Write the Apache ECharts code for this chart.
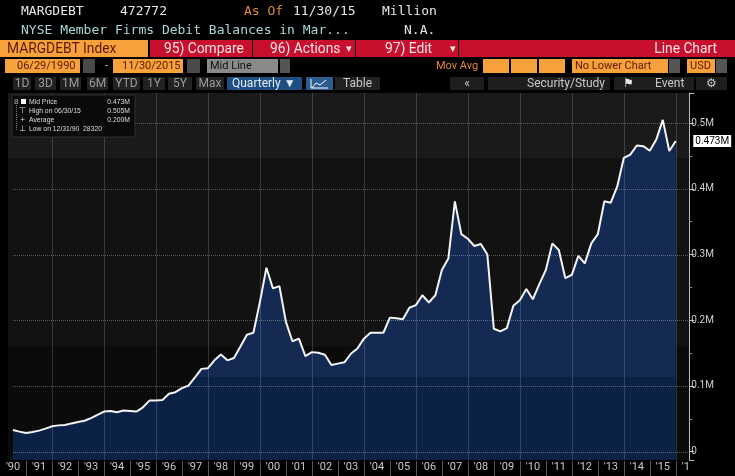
<!DOCTYPE html>
<html><head><meta charset="utf-8">
<script src="https://cdn.jsdelivr.net/npm/echarts@6/dist/echarts.min.js"></script>
<style>html,body{margin:0;padding:0;background:#000;}#c{width:735px;height:476px;}</style>
</head><body><div id="c"></div>
<script>
// ---- data (quarterly, NYSE margin debt, millions) ----
const firstQuarter = 1990.5;      // 06/29/1990, then every quarter
const quarterStep = 0.25;
const margdebt = [
  33000, 30500, 28320, 30000, 32000, 35000, 38500, 40000, 40500, 43000,
  45000, 47000, 51000, 56000, 61000, 62000, 60000, 62500, 62000, 61000,
  67500, 77700, 78000, 78700, 88000, 90500, 96600, 100600, 113000, 126000,
  127000, 139000, 148000, 139000, 142500, 160000, 178000, 181000, 228000, 280000,
  248500, 252000, 197500, 168000, 172000, 145500, 151500, 150500, 147600, 132000,
  134000, 136000, 149000, 157000, 172000, 181000, 181000, 181000, 204000, 203000,
  201500, 219000, 223000, 238000, 227000, 238000, 276500, 294000, 381000, 331000,
  324000, 313000, 316000, 300000, 187000, 183000, 188000, 222000, 230500, 247500,
  232000, 255000, 276500, 317000, 307000, 264000, 269000, 298000, 286500, 317000,
  331000, 381000, 379000, 404000, 447000, 452000, 466000, 465000, 458000, 475000,
  505000, 457500, 472772
];
const yearLabels = ["'90","'91","'92","'93","'94","'95","'96","'97","'98","'99","'00","'01","'02","'03","'04","'05","'06","'07","'08","'09","'10","'11","'12","'13","'14","'15","'16"];
const firstYear = 1990;
const yTickLabels = ['0','0.1M','0.2M','0.3M','0.4M','0.5M'];
const yTickStep = 100000;
const lastLabel = '0.473M';
const legendRows = [
  ['', 'Mid Price', '0.473M'],
  ['⊤', 'High on 06/30/15', '0.505M'],
  ['+', 'Average', '0.200M'],
  ['⊥', 'Low on 12/31/90  28320', '']
];
const X_MIN = 1990, X_MAX = 2016.52, Y_MIN = -12700, Y_MAX = 545900;

const seriesData = margdebt.map((v, i) => [firstQuarter + i * quarterStep, v]);

// ---- helpers for the terminal header (zlevel 0 under the plot, 4 over it) ----
const G = [];
function txt(x, y, s, fill, font, align, zl, sx) {
  G.push({type:'text', x:x, y:y, z:20, zlevel:zl||0, silent:true, scaleX: sx||1,
    style:{text:s, fill:fill, font:font, textAlign:align||'left', textVerticalAlign:'middle'}});
}
function box(x, y, w, h, fill, stroke, zl, z) {
  G.push({type:'rect', z:z||15, zlevel:zl||0, silent:true, shape:{x:x,y:y,width:w,height:h},
    style:{fill:fill, stroke:stroke||null, lineWidth:1}});
}
const MONO = "13px 'DejaVu Sans Mono', 'Liberation Mono', monospace";
const BAR = "15px Roboto, sans-serif";
const SMALL = "11px Roboto, sans-serif";
const BTN = "12px Roboto, sans-serif";
const DARK = '#5c1800';

// row 1
txt(21, 12, 'MARGDEBT', '#e6e6e6', MONO);
txt(120, 12, '472772', '#e6e6e6', MONO);
txt(244, 12, 'As Of', '#e0893a', MONO);
txt(293, 12, '11/30/15', '#e6e6e6', MONO);
txt(382, 12, 'Million', '#e6e6e6', MONO);
// row 2
txt(21, 31, 'NYSE Member Firms Debit Balances in Mar...', '#a9d6d6', MONO);
txt(404, 31, 'N.A.', '#e6e6e6', MONO);
// row 3 (red bar)
box(0, 40, 148, 17, '#f6a13c');
box(150, 40, 102, 17, '#c8102e');
box(253, 40, 102, 17, '#c8102e');
box(356, 40, 102, 17, '#c8102e');
box(459, 40, 276, 17, '#c8102e');
txt(7, 49, 'MARGDEBT Index', DARK, BAR, 'left', 0, 0.92);
txt(164, 49, '95) Compare', '#fbe4e4', BAR, 'left', 0, 0.92);
txt(270, 49, '96) Actions', '#fbe4e4', BAR, 'left', 0, 0.92);
txt(346, 49, '▾', '#fbe4e4', SMALL);
txt(385, 49, '97) Edit', '#fbe4e4', BAR, 'left', 0, 0.92);
txt(450, 49, '▾', '#fbe4e4', SMALL);
txt(717, 49, 'Line Chart', '#fbe4e4', BAR, 'right', 0, 0.92);
// row 4
box(5, 59, 75, 14, '#f6a13c');
txt(17, 66, '06/29/1990', DARK, SMALL);
box(83, 59, 12, 14, '#4a4a4a');
txt(105, 66, '-', '#cccccc', SMALL);
box(113, 59, 70, 14, '#f6a13c');
txt(122, 66, '11/30/2015', DARK, SMALL);
box(187, 59, 13, 14, '#4a4a4a');
box(207, 59, 71, 14, '#8a8a8a');
txt(210, 66, 'Mid Line', '#111111', SMALL);
box(280, 59, 10, 14, '#555555');
txt(436, 66, 'Mov Avg', '#e0893a', SMALL);
box(483, 59, 26, 14, '#f6a13c');
box(511, 59, 26, 14, '#f6a13c');
box(539, 59, 26, 14, '#f6a13c');
box(572, 59, 96, 14, '#f6a13c');
txt(575, 66, 'No Lower Chart', DARK, SMALL);
box(669, 59, 11, 14, '#555555');
box(687, 59, 28, 14, '#f6a13c');
txt(690, 66, 'USD', DARK, SMALL);
box(716, 59, 11, 14, '#555555');
// row 5
const btns = [['1D',13,18],['3D',35,21],['1M',60,21],['6M',87,21],['YTD',113,27],['1Y',143,22],['5Y',168,24],['Max',196,28]];
btns.forEach(b => { box(b[1], 77, b[2], 13, '#222222'); txt(b[1] + b[2]/2, 84, b[0], '#9a9a9a', BTN, 'center'); });
box(227, 77, 75, 13, '#1f4f82');
txt(232, 84, 'Quarterly ▼', '#e4ecf6', BTN);
box(306, 77, 27, 13, '#2b5d90');
G.push({type:'polyline', z:21, silent:true, shape:{points:[[312,88],[316,83],[320,85],[326,80]]}, style:{stroke:'#ffffff', lineWidth:1, fill:null}});
G.push({type:'polyline', z:21, silent:true, shape:{points:[[311,79],[311,88],[328,88]]}, style:{stroke:'#ffffff', lineWidth:1, fill:null}});
box(335, 77, 45, 13, '#222222');
txt(343, 84, 'Table', '#c8c8c8', BTN);
box(450, 77, 34, 13, '#1e1e1e');
txt(467, 84, '«', '#c8c8c8', BTN, 'center');
box(488, 77, 122, 13, '#1e1e1e');
txt(527, 84, 'Security/Study', '#c8c8c8', BTN);
box(614, 77, 80, 13, '#1e1e1e');
txt(623, 84, '⚑', '#e6e6e6', BTN);
txt(655, 84, 'Event', '#c8c8c8', BTN);
box(696, 77, 31, 13, '#1e1e1e');
txt(711, 84, '⚙', '#c8c8c8', BTN, 'center');

// plot background bands (bottom layer)
box(8, 93, 682, 65, '#1a1a1a', null, 0, 1);
box(8, 158, 682, 188, '#121212', null, 0, 1);
box(8, 346, 682, 114, '#0b0b0b', null, 0, 1);
// black strip at the left edge of the plot (top layer)
box(0, 93, 8, 367, '#000000', null, 4);

// legend box (top layer)
box(12, 95, 123, 42, '#0a0a0a', '#2e2e2e', 4);
const LF = "8px 'Liberation Sans', Arial, sans-serif";
box(21, 99, 5, 5, '#ffffff', null, 4, 30);
txt(14, 102, '8', '#bbbbbb', LF, 'left', 4);
G.push({type:'line', z:30, zlevel:4, silent:true, shape:{x1:16.5, y1:105, x2:16.5, y2:130}, style:{stroke:'#777', lineDash:[1,1], lineWidth:1}});
legendRows.forEach((r, i) => {
  const y = 102 + i * 8.8;
  if (r[0]) txt(22.5, y, r[0], '#e0e0e0', LF, 'center', 4);
  txt(29, y, r[1], '#dedede', LF, 'left', 4, 0.85);
  if (r[2]) txt(130, y, r[2], '#dedede', LF, 'right', 4, 0.85);
});
// mask clipping the last year label at the plot edge
box(690, 461, 12, 15, '#000000', null, 4);

const chart = echarts.init(document.getElementById('c'), null, {renderer:'canvas'});
const fill = {type:'linear', x:0, y:95, x2:0, y2:460, global:true,
  colorStops:[{offset:0,color:'#142a52'},{offset:0.772,color:'#142a52'},{offset:0.772,color:'#0b2146'},{offset:1,color:'#0b2146'}]};

chart.setOption({
  backgroundColor:'transparent',
  animation:false,
  graphic: G,
  grid:{left:-4.6, right:45.7, top:93, bottom:16, containLabel:false},
  xAxis:[
    {type:'value', position:'bottom', min:X_MIN, max:X_MAX, interval:2, zlevel:1, z:3,
     axisLine:{show:false, onZero:false}, axisTick:{show:false}, axisLabel:{show:false},
     splitLine:{show:false}},
    {type:'value', position:'bottom', min:X_MIN, max:X_MAX, interval:1, zlevel:1, z:3,
     axisLine:{show:false, onZero:false},
     axisTick:{show:false},
     axisLabel:{show:true, color:'#c8c8c8', fontSize:11, fontFamily:"Roboto, sans-serif",
       margin:2, padding:[0,0,0,26.16], align:'center',
       formatter: v => { const i = Math.round(v - firstYear); return (Math.abs(v - Math.round(v)) < 1e-6 && yearLabels[i]) ? yearLabels[i] : ''; }},
     splitLine:{show:false}}
  ],
  yAxis:{type:'value', position:'right', min:Y_MIN, max:Y_MAX, zlevel:1, z:3,
    axisLine:{show:true, onZero:false, lineStyle:{color:'#bdbdbd'}},
    axisTick:{show:true, length:5, lineStyle:{color:'#bdbdbd', width:1}},
    minorTick:{show:true, splitNumber:2, length:3, lineStyle:{color:'#8a8a8a', width:1}},
    axisLabel:{color:'#cfcfcf', fontSize:10, fontFamily:"Roboto, sans-serif", margin:2,
      showMinLabel:false, showMaxLabel:false,
      formatter: v => { const i = Math.round(v / yTickStep); return (v % yTickStep === 0 && yTickLabels[i] !== undefined) ? yTickLabels[i] : ''; }},
    splitLine:{show:false}
  },
  series:[
    {type:'line', data:seriesData, xAxisIndex:0, zlevel:1, z:1, symbol:'none', silent:true,
     lineStyle:{width:0}, areaStyle:{color:fill, opacity:1, origin:'start'}},
    {type:'line', data:seriesData, xAxisIndex:0, zlevel:3, z:8, symbol:'none', silent:true,
     lineStyle:{width:2, color:'#f4f4f4'},
     markLine:{silent:true, zlevel:3, symbol:['none','none'], animation:false, lineStyle:{color:'rgba(0,0,0,0)', width:0},
       data:[{yAxis: margdebt[margdebt.length-1]}],
       label:{show:true, position:'end', distance:4, formatter:lastLabel, color:'#000', backgroundColor:'#ffffff',
         fontSize:10, padding:[1,2], fontFamily:"Roboto, sans-serif"}}}
  ]
});

// grid lines and year separators, placed through the chart's own axis scales (layer 2: over the fill, under the line)
const toNum = r => Array.isArray(r) ? r[0] : r;
const px = v => toNum(chart.convertToPixel({xAxisIndex:0}, v));
const py = v => { const r = chart.convertToPixel({yAxisIndex:0}, v); return Array.isArray(r) ? r[1] : r; };
const plotTop = py(Y_MAX), plotBottom = py(Y_MIN);
const plotLeft = px(firstQuarter), plotRight = px(X_MAX);
const gl = {stroke:'rgba(255,255,255,0.3)', lineDash:[1,1], lineWidth:1, fill:null};
if ([plotTop, plotBottom, plotLeft, plotRight].every(v => isFinite(v))) {
  yearLabels.forEach((l, i) => {
    if (i === 0) return;
    const yr = firstYear + i;
    const x = Math.round(px(yr));
    if (!isFinite(x)) return;
    // separator between year labels
    G.push({type:'rect', zlevel:2, z:2, silent:true,
      shape:{x:x, y:Math.round(plotBottom) + 1, width:1, height:476 - Math.round(plotBottom) - 1},
      style:{fill:'#555555'}});
    // vertical grid line every second year
    if (yr % 2 === 0) G.push({type:'rect', zlevel:2, z:5, silent:true,
      shape:{x:x, y:Math.round(plotTop), width:1, height:Math.round(plotBottom) - Math.round(plotTop)},
      style:{fill:'rgba(255,255,255,0.16)'}});
  });
  yTickLabels.forEach((l, i) => {
    const y = Math.round(py(i * yTickStep)) + 0.5;
    if (!isFinite(y)) return;
    G.push({type:'line', zlevel:2, z:5, silent:true, shape:{x1:plotLeft, y1:y, x2:plotRight, y2:y}, style:gl});
  });
  chart.setOption({graphic: G});
}
</script></body></html>
